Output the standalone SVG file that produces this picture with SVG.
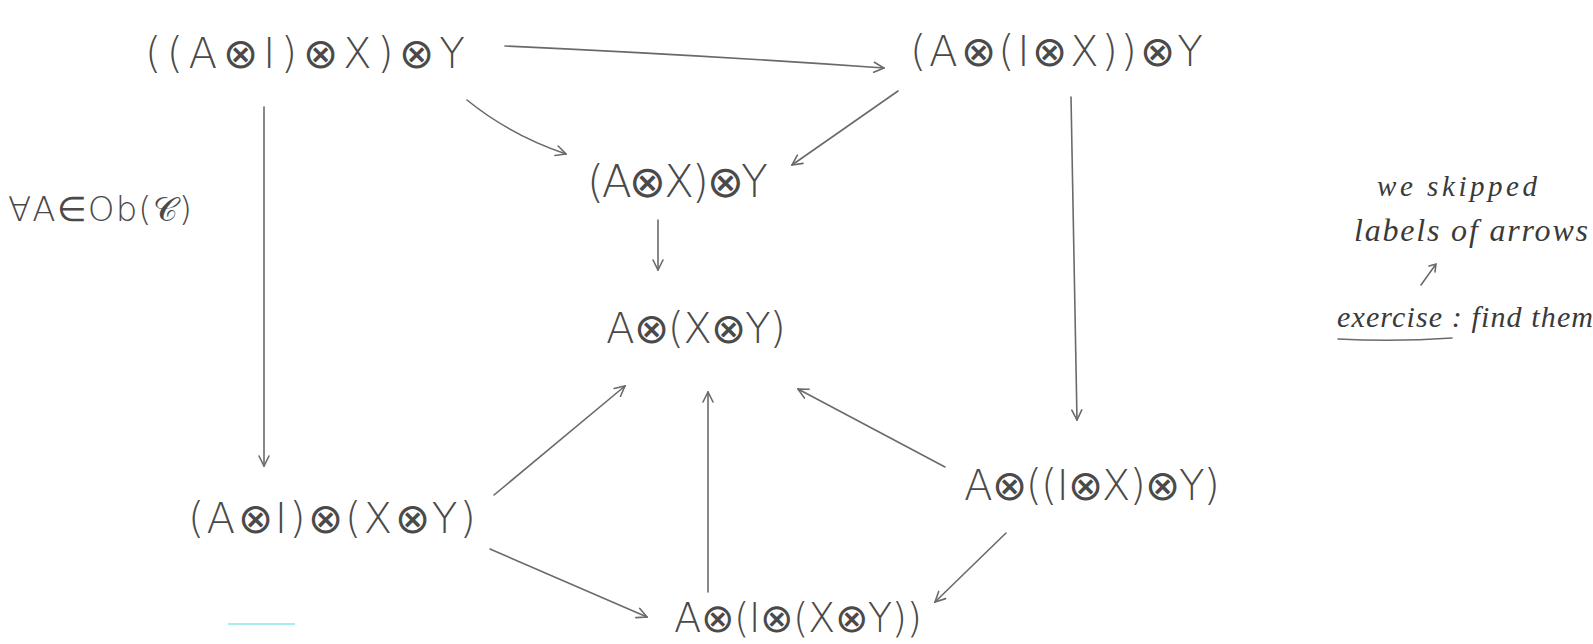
<svg xmlns="http://www.w3.org/2000/svg" width="1593" height="644" viewBox="0 0 1593 644">
<style>
.n{font-family:"DejaVu Sans","Liberation Sans",sans-serif;font-weight:200;fill:#4a4a4a}
.note{font-family:"Liberation Serif","DejaVu Serif",serif;font-style:italic;fill:#3a3a3a}
.c{fill:none;stroke:#6a6a6a;stroke-width:1.6;stroke-linecap:round}
</style>
<defs>
<marker id="ah" viewBox="0 0 12 12" refX="11" refY="6" markerWidth="12" markerHeight="12" markerUnits="userSpaceOnUse" orient="auto">
<path d="M1,1 L11,6 L1,11" fill="none" stroke="#6a6a6a" stroke-width="1.6" stroke-linecap="round"/>
</marker>
</defs>
<rect width="1593" height="644" fill="#ffffff"/>
<g id="node1"><text class="n" x="145" y="68" font-size="42" textLength="320" lengthAdjust="spacing">((A⊗I)⊗X)⊗Y</text></g>
<g id="node2"><text class="n" x="910" y="66" font-size="42" textLength="293" lengthAdjust="spacing">(A⊗(I⊗X))⊗Y</text></g>
<g id="node3"><text class="n" x="587" y="197" font-size="44" textLength="181" lengthAdjust="spacing">(A⊗X)⊗Y</text></g>
<g id="node4"><text class="n" x="606" y="343" font-size="42" textLength="180" lengthAdjust="spacing">A⊗(X⊗Y)</text></g>
<g id="node5"><text class="n" x="188" y="533" font-size="42" textLength="288" lengthAdjust="spacing">(A⊗I)⊗(X⊗Y)</text></g>
<g id="node6"><text class="n" x="964" y="500" font-size="42" textLength="256" lengthAdjust="spacing">A⊗((I⊗X)⊗Y)</text></g>
<g id="node7"><text class="n" x="674" y="632" font-size="40" textLength="248" lengthAdjust="spacing">A⊗(I⊗(X⊗Y))</text></g>
<g id="label"><text class="n" x="8" y="221" font-size="34" textLength="184" lengthAdjust="spacing">∀A∈Ob(𝒞)</text></g>
<g id="note">
<text class="note" x="1377" y="196" font-size="29" textLength="160" lengthAdjust="spacing">we skipped</text>
<text class="note" x="1354" y="241" font-size="32" textLength="234" lengthAdjust="spacing">labels of arrows</text>
<path class="c" d="M1421,285 L1436,264 M1429,266 L1436,264 L1435,272"/>
<text class="note" x="1337" y="327" font-size="30" textLength="256" lengthAdjust="spacing">exercise : find them</text>
<path class="c" d="M1338,339 Q1395,342 1452,338" stroke-width="1.8"/>
</g>
<g id="connectors">
<path class="c" d="M505,46 Q700,55 884,68" marker-end="url(#ah)"/>
<path class="c" d="M467,100 Q510,135 566,154" marker-end="url(#ah)"/>
<path class="c" d="M898,91 L792,165" marker-end="url(#ah)"/>
<path class="c" d="M658,220 L658,270" marker-end="url(#ah)"/>
<path class="c" d="M264,107 L264,466" marker-end="url(#ah)"/>
<path class="c" d="M1071,97 L1077,420" marker-end="url(#ah)"/>
<path class="c" d="M494,495 Q560,440 625,386" marker-end="url(#ah)"/>
<path class="c" d="M708,592 L708,392" marker-end="url(#ah)"/>
<path class="c" d="M945,467 L798,389" marker-end="url(#ah)"/>
<path class="c" d="M490,549 L647,617" marker-end="url(#ah)"/>
<path class="c" d="M1006,533 L935,602" marker-end="url(#ah)"/>
<line x1="228" y1="624" x2="295" y2="624" stroke="#a8ecec" stroke-width="2"/>
</g>
</svg>
